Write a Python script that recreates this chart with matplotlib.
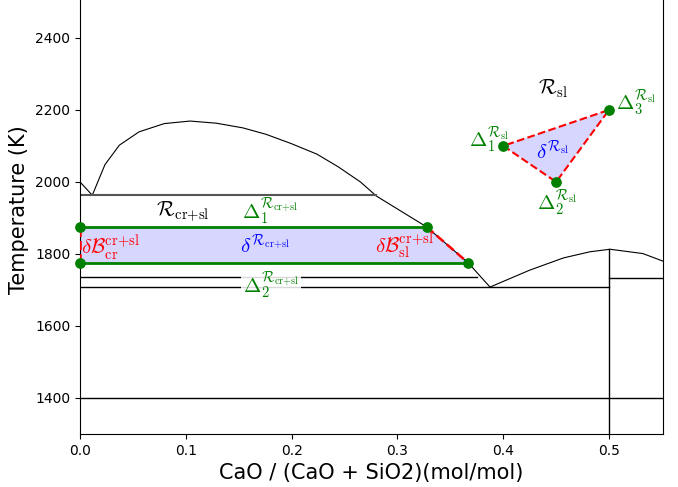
import matplotlib
matplotlib.use('Agg')
import matplotlib.pyplot as plt

plt.rcParams['mathtext.fontset'] = 'cm'

# liquidus curves
liq_left_x = [0.0, 0.0116, 0.0236, 0.0372, 0.0558, 0.0797, 0.104, 0.129, 0.154, 0.176,
              0.200, 0.224, 0.244, 0.265, 0.280, 0.3276, 0.367, 0.3875]
liq_left_T = [2000, 1963, 2048, 2102, 2139, 2162, 2169, 2163, 2150, 2132,
              2106, 2077, 2042, 2000, 1961, 1875, 1775, 1708]
liq_right_x = [0.3875, 0.425, 0.457, 0.482, 0.501, 0.532, 0.551]
liq_right_T = [1708, 1755, 1789, 1806, 1813, 1801, 1780]

# isotherms: (T, x start, x end)
iso_T = [1736, 1708, 1734, 1400]
iso_x0 = [0.0, 0.0, 0.5, 0.0]
iso_x1 = [0.375, 0.5, 0.55, 0.55]
top_iso_T = 1963
top_iso_x1 = 0.280
compound_x = 0.5
compound_T = 1813

# two-phase region box
band_T = [1775, 1875]
band_x_top = 0.3276
band_x_bot = 0.367

# single-phase triangle
tri_x = [0.40, 0.45, 0.50]
tri_T = [2100, 2000, 2200]

fig = plt.figure(figsize = (6.78, 4.87), dpi = 100)
# axes top sits a little above the figure edge (cropped in the reference)
ax = fig.add_axes([80 / 678, 53 / 487, 583 / 678, 448 / 487])
ax.set_xlim(0, 0.551)
ax.set_ylim(1300, 2544)
ax.spines['top'].set_visible(False)

# phase diagram lines
ax.plot(liq_left_x, liq_left_T, color = 'black', lw = 0.8)
ax.plot(liq_right_x, liq_right_T, color = 'black', lw = 0.8)
for T, x0, x1 in zip(iso_T, iso_x0, iso_x1):
    ax.plot([x0, x1], [T, T], color = 'black', lw = 1.0)
ax.plot([0, top_iso_x1], [top_iso_T, top_iso_T], color = '#555555', lw = 1.5)
ax.plot([compound_x, compound_x], [1300, compound_T], color = 'black', lw = 1.0)

# band region
bx = [0, band_x_top, band_x_bot, 0]
bT = [band_T[1], band_T[1], band_T[0], band_T[0]]
ax.fill(bx, bT, color = 'blue', alpha = 0.16, lw = 0, zorder = 2)
ax.plot([0, band_x_top], [band_T[1], band_T[1]], color = 'green', lw = 2, zorder = 3)
ax.plot([0, band_x_bot], [band_T[0], band_T[0]], color = 'green', lw = 2, zorder = 3)
ax.plot([0, 0], band_T, color = 'red', ls = '--', lw = 1.8, zorder = 3)
ax.plot([band_x_top, band_x_bot], [band_T[1], band_T[0]], color = 'red', ls = '--', lw = 1.8, zorder = 3)
ax.scatter([0, 0, band_x_top, band_x_bot], [band_T[1], band_T[0], band_T[1], band_T[0]],
           color = 'green', s = 45, zorder = 5, clip_on = False)

# triangle region
ax.fill(tri_x, tri_T, color = 'blue', alpha = 0.16, lw = 0, zorder = 2)
ax.plot(tri_x + tri_x[:1], tri_T + tri_T[:1], color = 'red', ls = '--', lw = 1.5, zorder = 3)
ax.scatter(tri_x, tri_T, color = 'green', s = 45, zorder = 5)

fs = 15
crsl = r'\mathrm{cr{+}sl}'
ax.text(0.447, 2258, r'$\mathcal{R}_{\rm sl}$', fontsize = fs, ha = 'center', va = 'center')
ax.text(0.3866, 2117, r'$\Delta_1^{\mathcal{R}_{\rm sl}}$', fontsize = fs, color = 'green', ha = 'center', va = 'center')
ax.text(0.451, 1942, r'$\Delta_2^{\mathcal{R}_{\rm sl}}$', fontsize = fs, color = 'green', ha = 'center', va = 'center')
ax.text(0.5255, 2219, r'$\Delta_3^{\mathcal{R}_{\rm sl}}$', fontsize = fs, color = 'green', ha = 'center', va = 'center')
ax.text(0.447, 2083, r'$\delta^{\mathcal{R}_{\rm sl}}$', fontsize = fs, color = 'blue', ha = 'center', va = 'center')

ax.text(0.0975, 1917, r'$\mathcal{R}_{%s}$' % crsl, fontsize = fs, ha = 'center', va = 'center')
ax.text(0.18, 1917, r'$\Delta_1^{\mathcal{R}_{%s}}$' % crsl, fontsize = fs, color = 'green', ha = 'center', va = 'center')
ax.text(0.1805, 1714, r'$\Delta_2^{\mathcal{R}_{%s}}$' % crsl, fontsize = fs, color = 'green', ha = 'center', va = 'center',
        bbox = dict(facecolor = 'white', edgecolor = 'none', alpha = 0.85, pad = 1), zorder = 4)
ax.text(0.175, 1822, r'$\delta^{\mathcal{R}_{%s}}$' % crsl, fontsize = fs, color = 'blue', ha = 'center', va = 'center')
ax.text(0.029, 1817, r'$\delta\mathcal{B}_{\rm cr}^{%s}$' % crsl, fontsize = fs, color = 'red', ha = 'center', va = 'center')
ax.text(0.307, 1822, r'$\delta\mathcal{B}_{\rm sl}^{%s}$' % crsl, fontsize = fs, color = 'red', ha = 'center', va = 'center')

ax.set_xticks([0.0, 0.1, 0.2, 0.3, 0.4, 0.5])
ax.set_yticks([1400, 1600, 1800, 2000, 2200, 2400])
ax.set_xlabel('CaO / (CaO + SiO2)(mol/mol)', fontsize = 15)
ax.set_ylabel('Temperature (K)', fontsize = 15)

fig.savefig('out.png', dpi = 100)
